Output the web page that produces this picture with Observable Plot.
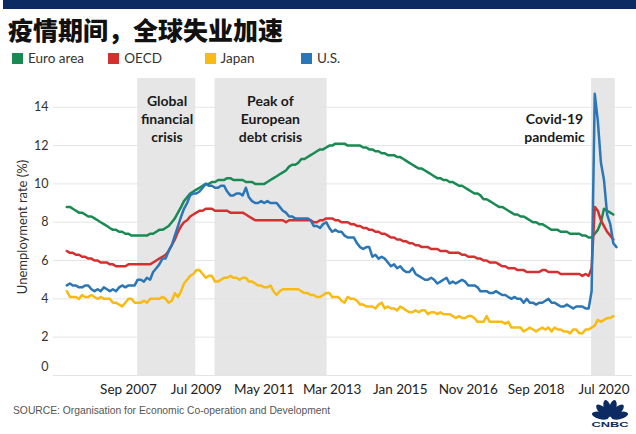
<!DOCTYPE html>
<html><head><meta charset="utf-8">
<script src="https://cdn.jsdelivr.net/npm/d3@7"></script>
<script src="https://cdn.jsdelivr.net/npm/@observablehq/plot@0.6"></script>
<style>
body{margin:0;background:#fff;width:636px;height:434px;overflow:hidden;position:relative;font-family:Lato,"Noto Sans",sans-serif;}
#bar{position:absolute;left:3px;top:0;width:633px;height:9px;background:#0c2b63;}
#title{position:absolute;left:8px;top:14px;font:900 25px/30px "Noto Sans CJK SC";color:#111;white-space:nowrap}
#legend{position:absolute;left:12px;top:50px;display:flex;font-size:13.5px;color:#333;line-height:16px}
.item{width:96.3px;display:flex;align-items:center}
.sw{width:11px;height:11px;margin-right:5px;flex:none}
#chart{position:absolute;left:0;top:70px}
#source{position:absolute;left:13px;top:405px;font:10.3px "Liberation Sans";color:#555;white-space:nowrap}
#logo{position:absolute;left:590px;top:398px}
</style></head>
<body>
<div id="bar"></div>
<div id="title">疫情期间，全球失业加速</div>
<div id="legend"></div>
<div id="chart"></div>
<div id="source">SOURCE: Organisation for Economic Co-operation and Development</div>
<svg id="logo" width="40" height="30" viewBox="0 0 40 30"></svg>
<script>
// ---- data (monthly, starting Jan 2006) ----
const startMonth = "2006-01-01";
const seriesNames = ["Euro area", "OECD", "Japan", "U.S."];
const seriesColors = ["#188a52", "#d3302f", "#f7bb14", "#2b76b6"];

const euroArea = [
 8.8,8.8,8.7,8.6,8.5,8.5,8.4,8.3,8.3,8.2,8.1,8.0,
 7.9,7.8,7.7,7.6,7.6,7.5,7.5,7.4,7.4,7.3,7.3,7.3,
 7.3,7.3,7.3,7.4,7.4,7.5,7.6,7.6,7.7,7.8,8.0,8.2,
 8.5,8.8,9.1,9.3,9.5,9.6,9.7,9.8,9.9,10.0,10.0,10.1,
 10.1,10.2,10.2,10.2,10.3,10.3,10.2,10.2,10.2,10.2,10.1,10.1,
 10.1,10.0,10.0,10.0,10.0,10.1,10.2,10.3,10.4,10.5,10.6,10.7,
 10.9,11.0,11.0,11.1,11.3,11.3,11.4,11.5,11.6,11.7,11.8,11.8,
 11.9,12.0,12.0,12.1,12.1,12.1,12.1,12.0,12.0,12.0,12.0,12.0,
 11.9,11.9,11.8,11.8,11.7,11.7,11.6,11.6,11.5,11.5,11.5,11.4,
 11.4,11.3,11.2,11.1,11.0,10.9,10.8,10.8,10.7,10.6,10.5,10.4,
 10.3,10.3,10.2,10.2,10.1,10.1,10.0,9.9,9.9,9.8,9.7,9.6,
 9.5,9.5,9.4,9.2,9.2,9.1,9.0,8.9,8.8,8.8,8.7,8.6,
 8.5,8.4,8.4,8.3,8.3,8.2,8.1,8.0,8.0,7.9,7.9,7.8,
 7.7,7.6,7.6,7.6,7.5,7.5,7.5,7.4,7.4,7.4,7.4,7.3,
 7.3,7.2,7.2,7.4,7.6,8.0,8.7,8.6,8.5,8.4
];
const oecd = [
 6.5,6.4,6.4,6.3,6.3,6.2,6.2,6.1,6.1,6.0,6.0,5.9,
 5.9,5.9,5.8,5.8,5.7,5.7,5.7,5.7,5.8,5.8,5.8,5.8,
 5.8,5.8,5.8,5.8,5.9,6.0,6.1,6.2,6.3,6.5,6.8,7.1,
 7.5,7.8,8.0,8.1,8.3,8.4,8.5,8.6,8.6,8.7,8.7,8.7,
 8.6,8.6,8.6,8.6,8.6,8.5,8.5,8.5,8.5,8.5,8.4,8.3,
 8.2,8.1,8.1,8.1,8.1,8.1,8.1,8.1,8.1,8.1,8.1,8.0,
 8.1,8.1,8.1,8.1,8.1,8.1,8.1,8.1,8.0,8.0,8.1,8.1,
 8.2,8.2,8.2,8.1,8.1,8.0,8.0,8.0,7.9,7.9,7.8,7.8,
 7.7,7.7,7.6,7.6,7.5,7.5,7.4,7.4,7.3,7.2,7.2,7.1,
 7.1,7.0,7.0,6.9,6.9,6.8,6.8,6.7,6.7,6.7,6.6,6.6,
 6.6,6.5,6.5,6.5,6.4,6.4,6.4,6.4,6.3,6.3,6.2,6.2,
 6.2,6.1,6.1,6.0,6.0,5.9,5.9,5.9,5.8,5.7,5.7,5.6,
 5.6,5.6,5.5,5.5,5.5,5.4,5.4,5.4,5.4,5.4,5.5,5.5,
 5.4,5.4,5.4,5.4,5.3,5.3,5.3,5.3,5.3,5.3,5.3,5.2,
 5.3,5.2,5.6,8.8,8.6,8.1,7.8,7.5,7.3,7.1
];
const japan = [
 4.4,4.1,4.1,4.1,4.0,4.2,4.1,4.1,4.2,4.1,4.0,4.1,
 4.0,4.0,4.0,3.8,3.8,3.7,3.6,3.8,4.0,4.0,3.8,3.8,
 3.8,3.9,3.8,4.0,4.0,4.0,4.0,4.1,4.0,3.8,3.9,4.3,
 4.1,4.4,4.8,5.0,5.2,5.3,5.5,5.5,5.3,5.1,5.2,5.2,
 4.9,4.9,5.0,5.1,5.1,5.2,5.1,5.1,5.0,5.1,5.1,4.9,
 4.9,4.8,4.7,4.7,4.6,4.6,4.7,4.4,4.2,4.4,4.5,4.5,
 4.5,4.5,4.5,4.5,4.4,4.3,4.3,4.2,4.2,4.1,4.1,4.2,
 4.3,4.3,4.1,4.1,4.1,3.9,3.8,4.1,4.0,4.0,3.9,3.7,
 3.7,3.6,3.6,3.6,3.5,3.7,3.8,3.5,3.6,3.5,3.5,3.4,
 3.6,3.5,3.4,3.3,3.3,3.4,3.3,3.4,3.4,3.2,3.3,3.3,
 3.2,3.3,3.2,3.2,3.2,3.1,3.0,3.1,3.0,3.0,3.1,3.1,
 3.0,2.8,2.8,2.8,3.1,2.8,2.8,2.8,2.8,2.8,2.7,2.8,
 2.5,2.5,2.5,2.5,2.3,2.4,2.5,2.4,2.3,2.4,2.5,2.4,
 2.5,2.3,2.5,2.4,2.4,2.3,2.3,2.2,2.4,2.4,2.2,2.2,
 2.4,2.4,2.5,2.6,2.9,2.8,2.9,3.0,3.0,3.1
];
const us = [
 4.7,4.8,4.7,4.7,4.6,4.6,4.7,4.7,4.5,4.4,4.5,4.4,
 4.6,4.5,4.4,4.5,4.4,4.6,4.7,4.6,4.7,4.7,4.7,5.0,
 5.0,4.9,5.1,5.0,5.4,5.6,5.8,6.1,6.1,6.5,6.8,7.3,
 7.8,8.3,8.7,9.0,9.4,9.5,9.5,9.6,9.8,10.0,9.9,9.9,
 9.8,9.8,9.9,9.9,9.6,9.4,9.4,9.5,9.5,9.4,9.8,9.3,
 9.1,9.0,9.0,9.1,9.0,9.1,9.0,9.0,9.0,8.8,8.6,8.5,
 8.3,8.3,8.2,8.2,8.2,8.2,8.2,8.1,7.8,7.8,7.7,7.9,
 8.0,7.7,7.5,7.6,7.5,7.5,7.3,7.2,7.2,7.2,6.9,6.7,
 6.6,6.7,6.7,6.2,6.3,6.1,6.2,6.1,5.9,5.7,5.8,5.6,
 5.7,5.5,5.4,5.4,5.6,5.3,5.2,5.1,5.0,5.0,5.1,5.0,
 4.8,4.9,5.0,5.1,4.8,4.9,4.8,4.9,5.0,4.9,4.7,4.7,
 4.7,4.6,4.4,4.4,4.4,4.3,4.3,4.4,4.3,4.2,4.2,4.1,
 4.0,4.1,4.0,4.0,3.8,4.0,3.8,3.8,3.7,3.8,3.8,3.9,
 4.0,3.8,3.8,3.7,3.6,3.6,3.7,3.6,3.5,3.6,3.6,3.6,
 3.5,3.5,4.4,14.7,13.3,11.1,10.2,8.4,7.9,6.9,6.7
];

const xTickDates = ["2007-09-01","2009-07-01","2011-05-01","2013-03-01","2015-01-01","2016-11-01","2018-09-01","2020-07-01"];
const yTicks = [2, 4, 6, 8, 10, 12, 14];
const yLabel = "Unemployment rate (%)";

const bandStarts = ["2007-12-01", "2010-01-01", "2020-03-01"];
const bandEnds   = ["2009-06-25", "2013-01-10", "2020-10-20"];
const bandLabels = ["Global\nfinancial\ncrisis", "Peak of\nEuropean\ndebt crisis", "Covid-19\npandemic"];
const bandLabelAt = ["2008-09-15", "2011-07-01", "2019-03-01"];

// ---- build ----
const parse = d3.utcParse("%Y-%m-%d");
const t0 = parse(startMonth);
const allValues = [euroArea, oecd, japan, us];
const rows = allValues.flatMap((vals, k) =>
  vals.map((v, i) => ({series: seriesNames[k], date: d3.utcMonth.offset(t0, i), value: v})));
const bands = bandStarts.map((s, i) => ({start: parse(s), end: parse(bandEnds[i]), label: bandLabels[i], at: parse(bandLabelAt[i])}));

// legend
const legend = document.getElementById("legend");
seriesNames.forEach((n, i) => {
  const it = document.createElement("div"); it.className = "item";
  it.innerHTML = `<div class="sw" style="background:${seriesColors[i]}"></div><span>${n}</span>`;
  legend.appendChild(it);
});

const chart = Plot.plot({
  width: 636, height: 330,
  marginLeft: 53, marginRight: 4, marginTop: 8, marginBottom: 25,
  style: {fontFamily: "Lato, 'Noto Sans', sans-serif", background: "transparent"},
  x: {type: "utc", domain: [parse("2005-08-23"), parse("2021-04-08")]},
  y: {domain: [0, 15.5]},
  color: {domain: seriesNames, range: seriesColors},
  marks: [
    Plot.rect(bands, {x1: "start", x2: "end", fill: "#e6e6e6"}),
    Plot.ruleY([0, ...yTicks], {stroke: "#e4e4e4", strokeWidth: 1}),
    Plot.text(bands.slice(0, 2), {x: "at", text: "label", frameAnchor: "top", lineAnchor: "top", dy: 15, lineHeight: 1.28, fontSize: 14, fontWeight: 700, fill: "#1a1a1a"}),
    Plot.text(bands.slice(2), {x: "at", text: "label", frameAnchor: "top", lineAnchor: "top", dy: 33, lineHeight: 1.28, fontSize: 14, fontWeight: 700, fill: "#1a1a1a"}),
    Plot.line(rows, {x: "date", y: "value", z: "series", stroke: "series", strokeWidth: 2.5, strokeLinejoin: "round"}),
    Plot.axisX(xTickDates.map(parse), {tickSize: 0, tickPadding: 9, tickFormat: d3.utcFormat("%b %Y"), fontSize: 13.5, fill: "#222", label: null}),
    Plot.axisY(yTicks, {tickSize: 0, tickPadding: 5, fontSize: 12.5, fill: "#333", label: null}),
    Plot.axisY([0], {tickSize: 0, tickPadding: 5, fontSize: 12.5, fill: "#333", dy: -9, label: null}),
    Plot.text([yLabel], {text: d => d, frameAnchor: "left", textAnchor: "middle", lineAnchor: "middle", rotate: -90, dx: -31, fontSize: 13, fill: "#333"})
  ]
});
document.getElementById("chart").appendChild(chart);

// CNBC logo (decorative)
const logo = d3.select("#logo");
const navy = "#0c2b63";
const angles = [-76, -46, -15, 15, 46, 76];
angles.forEach(a => {
  logo.append("ellipse").attr("cx", 0).attr("cy", -10).attr("rx", 3.6).attr("ry", 8.6)
    .attr("fill", navy).attr("transform", `translate(20,20) rotate(${a})`);
});
logo.append("text").attr("x", 20).attr("y", 28.5).attr("text-anchor", "middle")
  .attr("font-family", "Liberation Sans").attr("font-weight", 700).attr("font-size", 8)
  .attr("textLength", 37).attr("lengthAdjust", "spacingAndGlyphs").attr("fill", navy).text("CNBC");
</script>
</body></html>
